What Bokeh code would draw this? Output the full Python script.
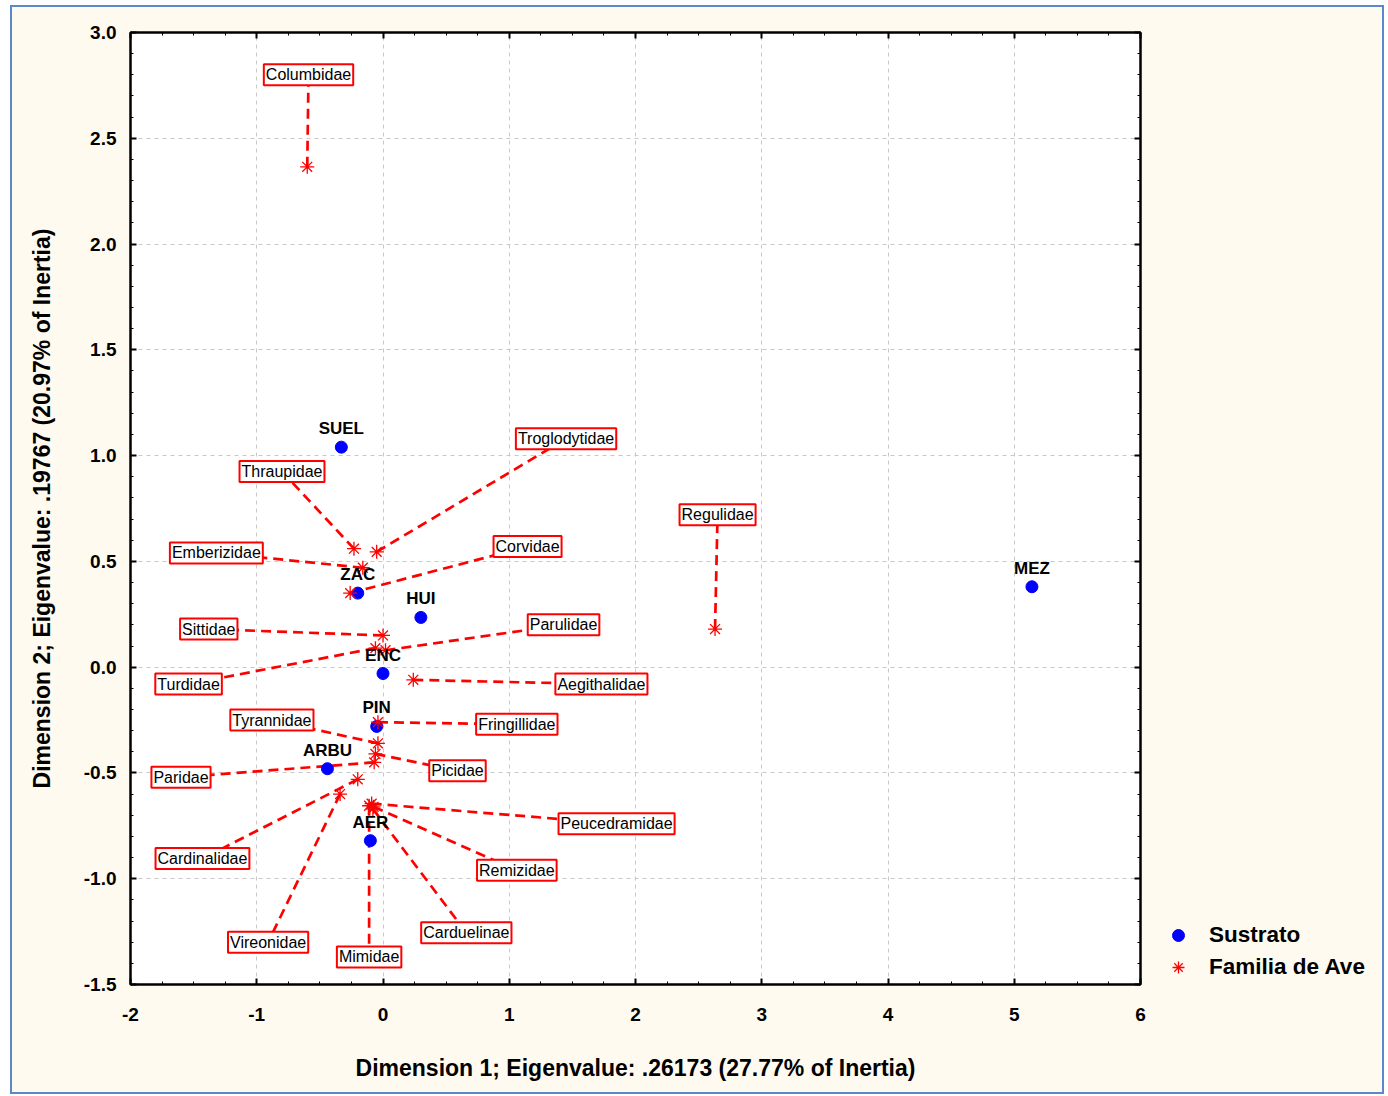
from bokeh.plotting import figure
from bokeh.layouts import row
from bokeh.models import (ColumnDataSource, LabelSet, Legend, LegendItem, LinearAxis,
                          SingleIntervalTicker, PrintfTickFormatter, Range1d)
from bokeh.core.properties import value
from bokeh.embed import file_html
from bokeh.resources import INLINE

# Sustrato (blue points)
sustrato = ["SUEL", "ZAC", "HUI", "ENC", "PIN", "ARBU", "AER", "MEZ"]
sus_x = [-0.33, -0.20, 0.30, 0.00, -0.05, -0.44, -0.10, 5.14]
sus_y = [1.04, 0.35, 0.235, -0.03, -0.28, -0.48, -0.82, 0.38]

# Familia de Ave (red stars)
familia = ["Columbidae", "Regulidae", "Thraupidae", "Troglodytidae", "Emberizidae",
           "Corvidae", "Sittidae", "Parulidae", "Turdidae", "Aegithalidae",
           "Fringillidae", "Tyrannidae", "Picidae", "Paridae", "Cardinalidae",
           "Vireonidae", "Mimidae", "Peucedramidae", "Remizidae", "Carduelinae"]
fam_x = [-0.60, 2.63, -0.23, -0.05, -0.16, -0.26, 0.00, 0.02, -0.06, 0.24,
         -0.04, -0.04, -0.06, -0.07, -0.20, -0.34, -0.11, -0.09, -0.075, -0.08]
fam_y = [2.365, 0.18, 0.56, 0.545, 0.47, 0.35, 0.15, 0.08, 0.09, -0.06,
         -0.26, -0.36, -0.41, -0.45, -0.53, -0.60, -0.655, -0.645, -0.66, -0.67]
# label anchor points (where the boxed names sit)
lab_x = [-0.59, 2.65, -0.80, 1.45, -1.32, 1.145, -1.38, 1.43, -1.54, 1.73,
         1.06, -0.88, 0.59, -1.60, -1.43, -0.91, -0.11, 1.85, 1.06, 0.66]
lab_y = [2.80, 0.72, 0.925, 1.08, 0.54, 0.57, 0.18, 0.20, -0.08, -0.08,
         -0.27, -0.25, -0.49, -0.52, -0.905, -1.30, -1.37, -0.74, -0.96, -1.255]

x_label = "Dimension 1; Eigenvalue: .26173 (27.77% of Inertia)"
y_label = "Dimension 2; Eigenvalue: .19767 (20.97% of Inertia)"

FONT = "Liberation Sans"
CREAM = "#fffaf0"

p = figure(width=1136, height=1085, output_backend="svg", toolbar_location=None,
           x_range=Range1d(-2, 6), y_range=Range1d(-1.5, 3.0),
           x_axis_label=x_label, y_axis_label=y_label,
           min_border_left=118, min_border_right=8, min_border_top=25,
           min_border_bottom=108)
p.background_fill_color = "white"
p.border_fill_color = CREAM
p.outline_line_color = "black"
p.outline_line_width = 2

xt = SingleIntervalTicker(interval=1, num_minor_ticks=4)
yt = SingleIntervalTicker(interval=0.5, num_minor_ticks=5)
p.xaxis.ticker = xt
p.yaxis.ticker = yt
p.xaxis.formatter = PrintfTickFormatter(format="%d")
p.yaxis.formatter = PrintfTickFormatter(format="%.1f")
p.xgrid.ticker = xt
p.ygrid.ticker = yt

for ax in [p.xaxis[0], p.yaxis[0]]:
    ax.axis_line_width = 2
    ax.axis_line_color = "black"
    ax.major_tick_in = 6
    ax.major_tick_out = 0
    ax.minor_tick_in = 3
    ax.minor_tick_out = 0
    ax.major_tick_line_width = 2
    ax.major_tick_line_color = "black"
    ax.minor_tick_line_color = "black"
    ax.major_label_text_font = FONT
    ax.major_label_text_font_style = "bold"
    ax.major_label_text_font_size = "19px"
    ax.major_label_text_color = "black"
    ax.axis_label_text_font = FONT
    ax.axis_label_text_font_style = "bold"
    ax.axis_label_text_font_size = "23px"
    ax.axis_label_text_color = "black"
p.xaxis.major_label_standoff = 23
p.yaxis.major_label_standoff = 14
p.xaxis.axis_label_standoff = 31
p.yaxis.axis_label_standoff = 26

for loc, tk in [("above", SingleIntervalTicker(interval=1, num_minor_ticks=4)),
                ("right", SingleIntervalTicker(interval=0.5, num_minor_ticks=5))]:
    ax = LinearAxis(ticker=tk, major_label_text_color=None,
                    major_label_text_font_size="1px", major_label_standoff=0,
                    major_tick_in=6, major_tick_out=0, minor_tick_in=3,
                    minor_tick_out=0, axis_line_width=2, major_tick_line_width=2,
                    axis_line_color="black")
    p.add_layout(ax, loc)

for g in [p.xgrid[0], p.ygrid[0]]:
    g.grid_line_color = "#c8c8c8"
    g.grid_line_dash = "4 4"
    g.grid_line_width = 1

fam_src = ColumnDataSource(dict(x=fam_x, y=fam_y, lx=lab_x, ly=lab_y, name=familia))
sus_src = ColumnDataSource(dict(x=sus_x, y=sus_y, name=sustrato))

p.segment(x0="x", y0="y", x1="lx", y1="ly", source=fam_src, line_color="#ff0000",
          line_width=2.7, line_dash="10 6")

p.scatter("x", "y", source=sus_src, marker="circle", size=12,
          fill_color="#0000ff", line_color="#0000ff")
p.scatter("x", "y", source=fam_src, marker="asterisk", size=14,
          line_color="#ff0000", line_width=1.3)

p.add_layout(LabelSet(x="x", y="y", text="name", source=sus_src, y_offset=9,
                      text_align="center", text_baseline="bottom",
                      text_font=value(FONT), text_font_style="bold",
                      text_font_size="17px", text_color="black"))

p.text(x="lx", y="ly", text="name", source=fam_src,
       text_align="center", text_baseline="middle",
       text_font=value(FONT), text_font_size="16px", text_color="black",
       background_fill_color="white", border_line_color="#ff0000",
       border_line_width=2, padding=2)

# legend panel (separate figure to the right, sharing the cream background)
lg = figure(width=234, height=1085, output_backend="svg", toolbar_location=None,
            x_range=Range1d(0, 1), y_range=Range1d(0, 1),
            x_axis_location=None, y_axis_location=None,
            min_border_left=0, min_border_right=0, min_border_top=0,
            min_border_bottom=0)
lg.grid.visible = False
lg.outline_line_color = None
lg.background_fill_color = CREAM
lg.border_fill_color = CREAM
offscreen = ColumnDataSource(dict(x=[-5], y=[-5]))
l_sus = lg.scatter("x", "y", source=offscreen, marker="circle", size=13,
                   fill_color="#0000ff", line_color="#0000ff")
l_fam = lg.scatter("x", "y", source=offscreen, marker="asterisk", size=14,
                   line_color="#ff0000", line_width=1.3)
legend = Legend(items=[LegendItem(label="Sustrato", renderers=[l_sus]),
                       LegendItem(label="Familia de Ave", renderers=[l_fam])],
                location=(7, 2), background_fill_alpha=0, border_line_color=None,
                label_text_font=FONT, label_text_font_style="bold",
                label_text_font_size="22.5px", label_text_color="black",
                spacing=2, glyph_width=46, glyph_height=30,
                label_standoff=8, margin=0, padding=0)
lg.add_layout(legend)

layout = row(p, lg, spacing=0)
layout.styles = {"margin-left": "10px", "margin-top": "5px",
                 "border": "2px solid #5a88c8", "background-color": CREAM}

open("out.html", "w").write(file_html(layout, INLINE))
